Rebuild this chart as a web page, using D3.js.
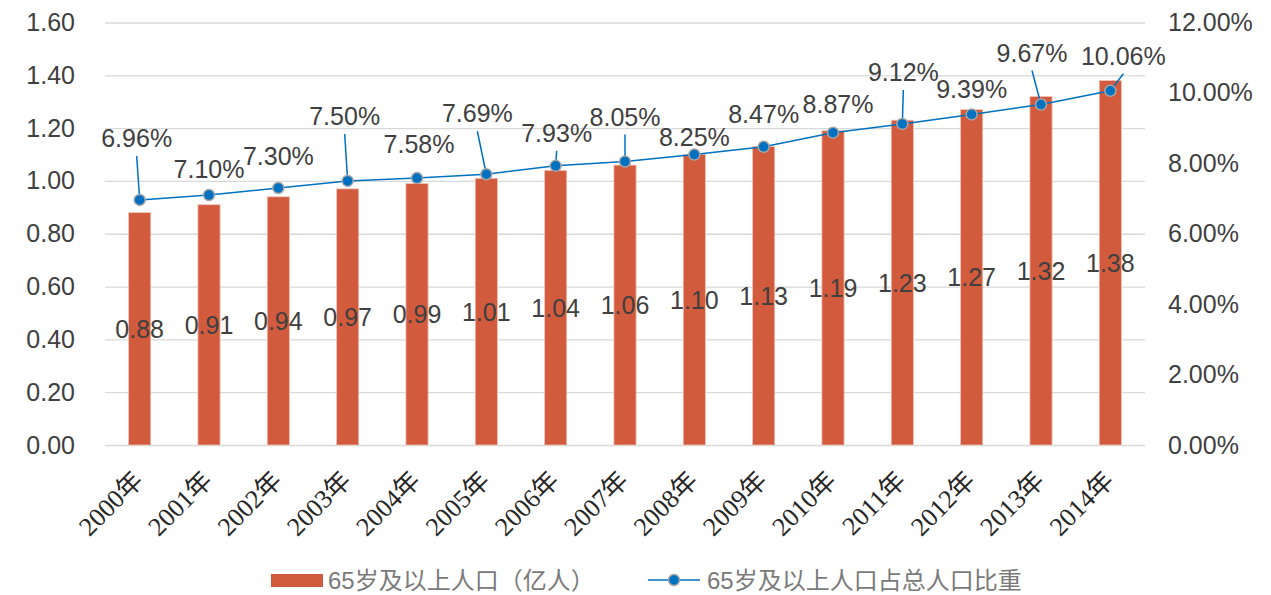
<!DOCTYPE html>
<html>
<head>
<meta charset="utf-8">
<script src="https://cdn.jsdelivr.net/npm/d3@7/dist/d3.min.js"></script>
<style>
  html, body { margin: 0; padding: 0; background: #ffffff; }
  svg { display: block; }
</style>
</head>
<body>
<script>
// ---- data ----
const years = ["2000年","2001年","2002年","2003年","2004年","2005年","2006年","2007年","2008年","2009年","2010年","2011年","2012年","2013年","2014年"];
const population = [0.88,0.91,0.94,0.97,0.99,1.01,1.04,1.06,1.10,1.13,1.19,1.23,1.27,1.32,1.38];
const ratio = [6.96,7.10,7.30,7.50,7.58,7.69,7.93,8.05,8.25,8.47,8.87,9.12,9.39,9.67,10.06];
const leftTicks = [0,0.2,0.4,0.6,0.8,1.0,1.2,1.4,1.6];
const rightTicks = [0,2,4,6,8,10,12];
const seriesNames = ["65岁及以上人口（亿人）","65岁及以上人口占总人口比重"];

// ---- layout (label placement for the line's data labels) ----
const labelOffsets = [[-3,-62],[0,-26],[0,-32],[-3,-65],[2,-34],[-9,-61],[1,-33],[0,-45],[0,-18],[0,-33],[5,-29],[1,-52],[0,-25],[-9,-52],[13,-35]];
const leaderIdx = [0,3,5,6,7,11,13,14];

const W = 1271, H = 595;
const plotLeft = 105, plotRight = 1145, plotTop = 22.5, plotBottom = 445;
const numFont = "'Liberation Sans', Arial, 'Noto Sans CJK SC', sans-serif";
const serifFont = "'Liberation Serif', 'Times New Roman', 'Noto Sans CJK SC', serif";
const barColor = "#D35B3D", lineColor = "#0070C0";

const svg = d3.select("body").append("svg").attr("width", W).attr("height", H);

const x = d3.scaleBand().domain(years).range([plotLeft, plotRight]).paddingInner(0.68).paddingOuter(0.34);
const yL = d3.scaleLinear().domain([0, 1.6]).range([plotBottom, plotTop]);
const yR = d3.scaleLinear().domain([0, 12]).range([plotBottom, plotTop]);

// gridlines
const grid = svg.append("g").attr("transform", `translate(${plotLeft},0)`)
  .call(d3.axisLeft(yL).tickValues(leftTicks).tickSize(-(plotRight-plotLeft)).tickFormat(""));
grid.select(".domain").remove();
grid.selectAll("line").attr("stroke", "#D9D9D9").attr("stroke-width", 1.3);

// left axis labels
const ax = svg.append("g").attr("transform", `translate(${plotLeft},0)`)
  .call(d3.axisLeft(yL).tickValues(leftTicks).tickSize(0).tickPadding(30).tickFormat(d3.format(".2f")));
ax.select(".domain").remove();
ax.selectAll("text").attr("font-family", numFont).attr("font-size", 25).attr("fill", "#404040");

// right axis labels
const axR = svg.append("g").attr("transform", `translate(${plotRight},0)`)
  .call(d3.axisRight(yR).tickValues(rightTicks).tickSize(0).tickPadding(23).tickFormat(d => d.toFixed(2) + "%"));
axR.select(".domain").remove();
axR.selectAll("text").attr("font-family", numFont).attr("font-size", 25).attr("fill", "#404040");

// x axis labels
const axX = svg.append("g").attr("transform", `translate(0,${plotBottom})`)
  .call(d3.axisBottom(x).tickSize(0).tickPadding(0));
axX.select(".domain").remove();
axX.attr("font-family", serifFont);
axX.selectAll("text")
  .style("font-family", serifFont)
  .attr("font-size", 26).attr("fill", "#262626")
  .attr("text-anchor", "end")
  .attr("dy", 0).attr("y", 0)
  .attr("transform", "translate(5,37) rotate(-45)");

// bars
svg.append("g").selectAll("rect").data(population).join("rect")
  .attr("x", (d,i) => x(years[i]))
  .attr("y", d => yL(d))
  .attr("width", x.bandwidth())
  .attr("height", d => yL(0) - yL(d))
  .attr("fill", barColor)
  .attr("stroke", "#F0C4B8").attr("stroke-width", 0.8);

// bar labels
svg.append("g").selectAll("text").data(population).join("text")
  .attr("x", (d,i) => x(years[i]) + x.bandwidth()/2)
  .attr("y", d => (yL(d) + yL(0)) / 2 + 9)
  .attr("text-anchor", "middle")
  .attr("font-family", numFont).attr("font-size", 25).attr("fill", "#404040")
  .text(d => d.toFixed(2));

const cx = i => x(years[i]) + x.bandwidth()/2;

// leader lines
svg.append("g").selectAll("line").data(leaderIdx).join("line")
  .attr("x1", i => cx(i) + labelOffsets[i][0])
  .attr("y1", i => yR(ratio[i]) + labelOffsets[i][1] + 18)
  .attr("x2", i => cx(i))
  .attr("y2", i => yR(ratio[i]))
  .attr("stroke", lineColor).attr("stroke-width", 1.5);

// line
svg.append("path").datum(ratio)
  .attr("d", d3.line().x((d,i) => cx(i)).y(d => yR(d)))
  .attr("fill", "none").attr("stroke", lineColor).attr("stroke-width", 1.5);

// markers
svg.append("g").selectAll("circle").data(ratio).join("circle")
  .attr("cx", (d,i) => cx(i)).attr("cy", d => yR(d)).attr("r", 5.5)
  .attr("fill", lineColor).attr("stroke", "#A6A6A6").attr("stroke-width", 1.5);

// line labels
svg.append("g").selectAll("text").data(ratio).join("text")
  .attr("x", (d,i) => cx(i) + labelOffsets[i][0])
  .attr("y", (d,i) => yR(d) + labelOffsets[i][1] + 9)
  .attr("text-anchor", "middle")
  .attr("font-family", numFont).attr("font-size", 25).attr("fill", "#404040")
  .text(d => d.toFixed(2) + "%");

// legend
const lg = svg.append("g");
lg.append("rect").attr("x", 271).attr("y", 574).attr("width", 52).attr("height", 13).attr("fill", barColor);
lg.append("text").attr("x", 328).attr("y", 589)
  .attr("font-family", numFont).attr("font-size", 24).attr("fill", "#7a7a7a").text(seriesNames[0]);
lg.append("line").attr("x1", 648).attr("x2", 700).attr("y1", 580).attr("y2", 580)
  .attr("stroke", lineColor).attr("stroke-width", 1.5);
lg.append("circle").attr("cx", 674).attr("cy", 580).attr("r", 5.5)
  .attr("fill", lineColor).attr("stroke", "#A6A6A6").attr("stroke-width", 1.5);
lg.append("text").attr("x", 707).attr("y", 589)
  .attr("font-family", numFont).attr("font-size", 24).attr("fill", "#7a7a7a").text(seriesNames[1]);
</script>
</body>
</html>
